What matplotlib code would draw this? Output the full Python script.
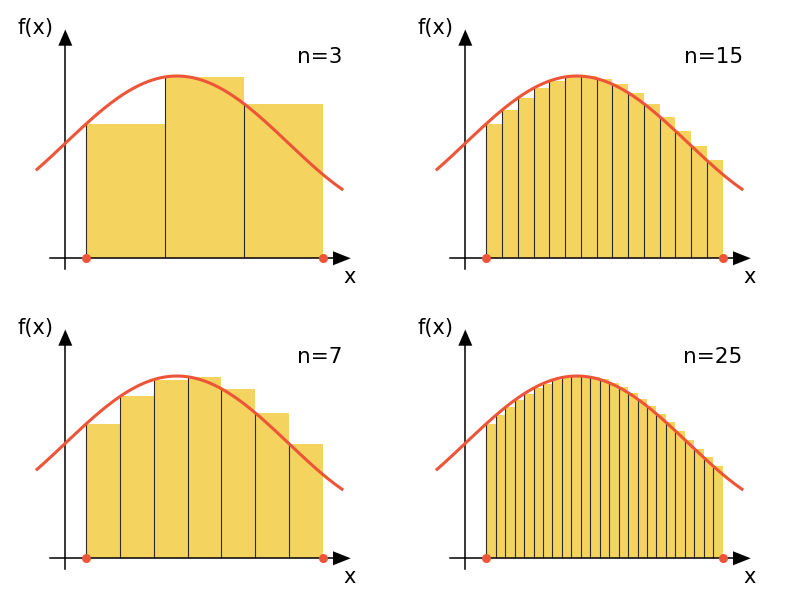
import numpy as np
import matplotlib
matplotlib.use("Agg")
import matplotlib.pyplot as plt

# number of rectangles in each panel: top-left, top-right, bottom-left, bottom-right
n_values = [3, 15, 7, 25]
labels = ["n=3", "n=15", "n=7", "n=25"]

# interval [a, b] and the range the curve is drawn over
a, b = 0.30, 3.675
curve_start, curve_end = -0.42, 3.97

# f(x) = f_offset + f_amp * sin(f_freq * x)
f_offset, f_amp, f_freq = 1.643, 0.961, 0.985

bar_color = "#F4D35E"
curve_color = "#EE5538"


def f(x):
    return f_offset + f_amp * np.sin(f_freq * x)


fig = plt.figure(figsize=(8, 6), dpi=100)
panel_pos = [[0.0, 0.5, 0.5, 0.5], [0.5, 0.5, 0.5, 0.5],
             [0.0, 0.0, 0.5, 0.5], [0.5, 0.0, 0.5, 0.5]]

for pos, n, lab in zip(panel_pos, n_values, labels):
    ax = fig.add_axes(pos)
    ax.set_xlim(-0.933, 4.781)
    ax.set_ylim(-0.596, 3.690)
    ax.axis("off")

    # left Riemann sum
    dx = (b - a) / n
    lefts = a + dx * np.arange(n)
    heights = f(lefts)
    ax.bar(lefts, heights, width=dx, align="edge", color=bar_color,
           linewidth=0, zorder=1)
    ax.vlines(lefts, 0, heights, color="#2b2b2b", linewidth=0.8, zorder=2)

    # axes with arrow heads
    ax.plot([0, 0], [-0.153, 3.05], color="black", lw=1.1, zorder=3)
    ax.plot([-0.219, 3.83], [0, 0], color="black", lw=1.1, zorder=3)
    ax.fill([-0.1, 0.1, 0], [3.037, 3.037, 3.269], color="black", lw=0, zorder=3)
    ax.fill([3.824, 3.824, 4.077], [-0.1, 0.1, 0], color="black", lw=0, zorder=3)

    # the function
    xs = np.linspace(curve_start, curve_end, 300)
    ax.plot(xs, f(xs), color=curve_color, lw=2.2, zorder=4,
            solid_capstyle="butt")
    ax.plot([a, b], [0, 0], "o", color=curve_color, ms=6.5, mec="none",
            zorder=5)

    ax.text(-0.69, 3.20, "f(x)", fontsize=15, ha="left", va="baseline")
    ax.text(4.06, -0.357, "x", fontsize=15, ha="center", va="baseline")
    ax.text(3.963, 2.786, lab, fontsize=15.5, ha="right", va="baseline")

fig.savefig("out.png", dpi=100)
plt.close(fig)
